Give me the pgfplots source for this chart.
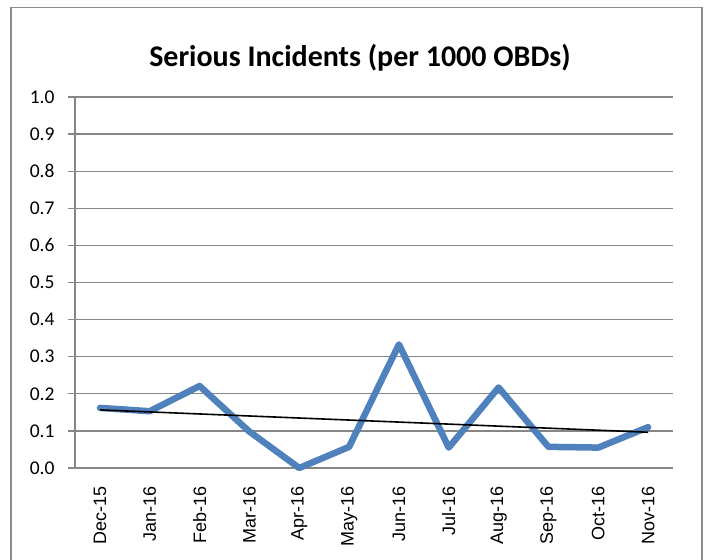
\documentclass[border=0pt]{standalone}
\usepackage{fontspec}
\setmainfont{Carlito}
\newfontfamily\arial{Liberation Sans}
\usepackage{pgfplots}
\usepackage{pgfplotstable}
\pgfplotsset{compat=1.18}
\definecolor{exblue}{HTML}{4F81BD}
\definecolor{gridgray}{HTML}{868686}
\definecolor{bordergray}{HTML}{8C8C8C}
\pgfplotstableread{
x y
1 0.162
2 0.153
3 0.221
4 0.098
5 0.000
6 0.057
7 0.333
8 0.055
9 0.217
10 0.057
11 0.055
12 0.110
}\datatable
\begin{document}
\begin{tikzpicture}[x=1bp,y=1bp]
\useasboundingbox (0,0) rectangle (707,560);
\clip (0,0) rectangle (707,560);
\fill[white] (0,0) rectangle (707,560);
\draw[bordergray, line width=1.3bp] (11,-20) -- (11,552.5) -- (702,552.5) -- (702,-20);
\node[anchor=base, font=\fontsize{30bp}{32bp}\selectfont\bfseries] at (360,493.3) {Serious Incidents (per 1000 OBDs)};
\begin{axis}[
  at={(75bp,92bp)}, anchor=south west,
  width=598bp, height=371bp, scale only axis,
  xmin=0.5, xmax=12.5, ymin=0, ymax=1,
  axis x line=bottom, axis y line=left,
  axis line style={-, gridgray, line width=1.3bp},
  xtick={1,...,12},
  xticklabels={Dec-15,Jan-16,Feb-16,Mar-16,Apr-16,May-16,Jun-16,Jul-16,Aug-16,Sep-16,Oct-16,Nov-16},
  major x tick style={draw=none},
  extra x ticks={0.5,1.5,...,12.5},
  extra x tick labels={},
  extra x tick style={major tick length=7bp, tick style={gridgray, line width=1.3bp}, grid=none},
  ytick={0,0.1,...,1.0},
  yticklabel style={/pgf/number format/.cd, fixed, fixed zerofill, precision=1, /tikz/.cd, font=\fontsize{19.5bp}{21bp}\selectfont},
  /pgf/number format/assume math mode=true,
  yticklabel shift=10bp,
  xticklabel shift=8bp,
  ymajorgrids,
  grid style={gridgray, line width=1.3bp},
  tick align=outside,
  major tick length=7bp,
  tick style={gridgray, line width=1.3bp},
  xticklabel style={rotate=90, anchor=east, font=\arial\fontsize{18bp}{20bp}\selectfont},
  clip=false,
]
\addplot[exblue, line width=6.5bp, line join=round, line cap=round] table[x=x,y=y] {\datatable};
\addplot[black, line width=1.6bp] table[x=x, y={create col/linear regression={y=y}}] {\datatable};
\end{axis}
\end{tikzpicture}
\end{document}
